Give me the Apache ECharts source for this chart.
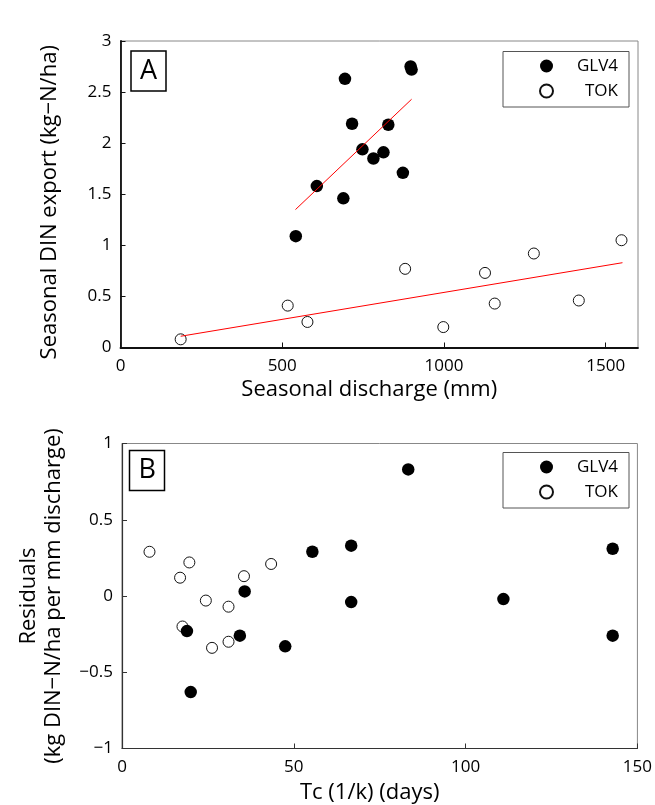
<!DOCTYPE html>
<html>
<head>
<meta charset="utf-8">
<script src="https://cdn.jsdelivr.net/npm/echarts@6/dist/echarts.min.js"></script>
<style>
html,body{margin:0;padding:0;background:#fff;}
#chart{width:655px;height:805px;}
</style>
</head>
<body>
<div id="chart"></div>
<script>
// Panel A: seasonal discharge (mm) vs seasonal DIN export (kg-N/ha)
var glvDischarge = [897, 900, 694, 716, 828, 748, 782, 813, 873, 607, 689, 542];
var glvExport    = [2.75, 2.72, 2.63, 2.19, 2.18, 1.94, 1.85, 1.91, 1.71, 1.58, 1.46, 1.09];
var tokDischarge = [186, 517, 578, 880, 998, 1127, 1157, 1278, 1417, 1549];
var tokExport    = [0.08, 0.41, 0.25, 0.77, 0.20, 0.73, 0.43, 0.92, 0.46, 1.05];
// fitted regression lines (end points)
var glvFitX = [541, 900];
var glvFitY = [1.35, 2.43];
var tokFitX = [186, 1552];
var tokFitY = [0.11, 0.83];

// Panel B: Tc (1/k) (days) vs residuals
var glvTc    = [83.3, 55.4, 66.7, 142.8, 35.7, 66.7, 111.0, 18.9, 34.3, 47.5, 142.8, 20.0];
var glvResid = [0.83, 0.29, 0.33, 0.31, 0.03, -0.04, -0.02, -0.23, -0.26, -0.33, -0.26, -0.63];
var tokTc    = [8.0, 19.6, 16.9, 35.5, 43.4, 24.4, 31.0, 17.6, 31.0, 26.2];
var tokResid = [0.29, 0.22, 0.12, 0.13, 0.21, -0.03, -0.07, -0.20, -0.30, -0.34];

var seriesNames = ['GLV4', 'TOK'];
var panelLabels = ['A', 'B'];

function zip(xs, ys) { return xs.map(function (x, i) { return [x, ys[i]]; }); }

var FONT = '"Open Sans", sans-serif';
var chart = echarts.init(document.getElementById('chart'), null, {renderer: 'canvas'});

function plainFmt(v) { return String(v).replace('-', '\u2212'); }

var filledStyle = {color: '#000', borderColor: '#000', borderWidth: 0, opacity: 1};
var openStyle = {color: '#fff', borderColor: '#111', borderWidth: 1, opacity: 1};

function legendFor(top) {
  return {
    left: 503, top: top,
    orient: 'vertical',
    data: seriesNames,
    backgroundColor: '#fff',
    borderColor: '#555', borderWidth: 1, borderRadius: 0,
    padding: [4.5, 11, 6, 36],
    itemGap: 5,
    itemWidth: 13, itemHeight: 13,
    icon: 'circle',
    selectedMode: false,
    formatter: '{a|{name}}',
    textStyle: {
      fontFamily: FONT, fontSize: 17, color: '#000', lineHeight: 20,
      rich: {a: {width: 60, align: 'right', fontFamily: FONT, fontSize: 17, lineHeight: 20}}
    }
  };
}

var option = {
  animation: false,
  backgroundColor: '#fff',
  textStyle: {fontFamily: FONT},
  title: panelLabels.map(function (t, i) {
    return {
      text: t,
      left: i === 0 ? 131 : 129.5,
      top: i === 0 ? 51 : 450.5,
      borderColor: '#000', borderWidth: 1.5,
      padding: [5, 9, 5, 9],
      textStyle: {fontFamily: FONT, fontSize: 27, fontWeight: 'normal', color: '#000', lineHeight: 30}
    };
  }),
  legend: [legendFor(51.5), legendFor(452.5)],
  grid: [
    {left: 120.5, top: 41, width: 517.5, height: 306.5, show: true, borderColor: '#888', borderWidth: 1, containLabel: false},
    {left: 122, top: 443.5, width: 517, height: 305, show: true, borderColor: '#888', borderWidth: 1, containLabel: false}
  ],
  xAxis: [
    {
      gridIndex: 0, type: 'value', min: 0, max: 1600, interval: 500,
      name: 'Seasonal discharge (mm)', nameLocation: 'middle', nameGap: 31,
      nameTextStyle: {fontFamily: FONT, fontSize: 22, color: '#000', padding: [0, 20, 0, 0]},
      axisLine: {show: true, onZero: false, lineStyle: {color: '#111', width: 1.8}},
      axisTick: {show: true, inside: true, length: 5, lineStyle: {color: '#111', width: 1}},
      axisLabel: {fontFamily: FONT, fontSize: 17, color: '#000', margin: 10, showMaxLabel: false, formatter: plainFmt},
      splitLine: {show: false}
    },
    {
      gridIndex: 1, type: 'value', min: 0, max: 150, interval: 50,
      name: 'Tc (1/k) (days)', nameLocation: 'middle', nameGap: 33,
      nameTextStyle: {fontFamily: FONT, fontSize: 22, color: '#000', padding: [0, 20, 0, 0]},
      axisLine: {show: true, onZero: false, lineStyle: {color: '#333', width: 1.2}},
      axisTick: {show: true, inside: true, length: 5, lineStyle: {color: '#333', width: 1}},
      axisLabel: {fontFamily: FONT, fontSize: 17, color: '#000', margin: 10, formatter: plainFmt},
      splitLine: {show: false}
    }
  ],
  yAxis: [
    {
      gridIndex: 0, type: 'value', min: 0, max: 3, interval: 0.5,
      name: 'Seasonal DIN export (kg\u2212N/ha)', nameLocation: 'middle', nameGap: 60, nameRotate: 90,
      nameTextStyle: {fontFamily: FONT, fontSize: 22, color: '#000', padding: [0, 16, 0, 0]},
      axisLine: {show: true, onZero: false, lineStyle: {color: '#111', width: 1.8}},
      axisTick: {show: true, inside: true, length: 5, lineStyle: {color: '#111', width: 1}},
      axisLabel: {fontFamily: FONT, fontSize: 17, color: '#000', margin: 9, formatter: plainFmt},
      splitLine: {show: false}
    },
    {
      gridIndex: 1, type: 'value', min: -1, max: 1, interval: 0.5,
      name: 'Residuals\n(kg DIN\u2212N/ha per mm discharge)', nameLocation: 'middle', nameGap: 56, nameRotate: 90,
      nameTextStyle: {fontFamily: FONT, fontSize: 22, color: '#000', lineHeight: 25, align: 'center'},
      axisLine: {show: true, onZero: false, lineStyle: {color: '#333', width: 1.2}},
      axisTick: {show: true, inside: true, length: 5, lineStyle: {color: '#333', width: 1}},
      axisLabel: {fontFamily: FONT, fontSize: 17, color: '#000', margin: 9, formatter: plainFmt},
      splitLine: {show: false}
    }
  ],
  series: [
    {name: 'TOK', type: 'scatter', xAxisIndex: 0, yAxisIndex: 0, symbol: 'circle', symbolSize: 11,
     itemStyle: openStyle, data: zip(tokDischarge, tokExport), z: 2},
    {name: 'GLV4', type: 'scatter', xAxisIndex: 0, yAxisIndex: 0, symbol: 'circle', symbolSize: 12.5,
     itemStyle: filledStyle, data: zip(glvDischarge, glvExport), z: 3},
    {name: 'GLV4 fit', type: 'line', xAxisIndex: 0, yAxisIndex: 0, symbol: 'none', silent: true,
     lineStyle: {color: '#ff0000', width: 1}, data: zip(glvFitX, glvFitY), z: 4},
    {name: 'TOK fit', type: 'line', xAxisIndex: 0, yAxisIndex: 0, symbol: 'none', silent: true,
     lineStyle: {color: '#ff0000', width: 1}, data: zip(tokFitX, tokFitY), z: 4},
    {name: 'TOK', type: 'scatter', xAxisIndex: 1, yAxisIndex: 1, symbol: 'circle', symbolSize: 11,
     itemStyle: openStyle, data: zip(tokTc, tokResid), z: 2},
    {name: 'GLV4', type: 'scatter', xAxisIndex: 1, yAxisIndex: 1, symbol: 'circle', symbolSize: 12.5,
     itemStyle: filledStyle, data: zip(glvTc, glvResid), z: 3}
  ]
};
chart.setOption(option);
</script>
</body>
</html>
